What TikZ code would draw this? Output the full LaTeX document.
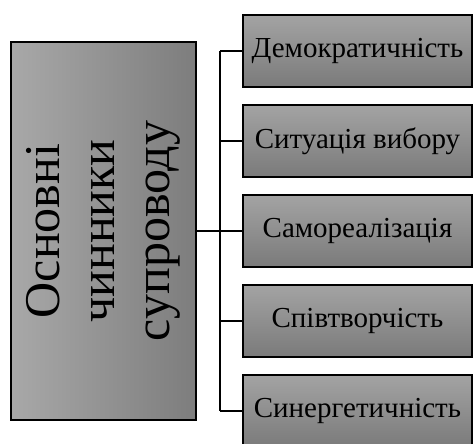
\documentclass[tikz,border=0pt]{standalone}
\usepackage{fontspec}
\setmainfont{Liberation Serif}
\definecolor{lgA}{gray}{0.66}
\definecolor{lgB}{gray}{0.49}
\definecolor{rgA}{gray}{0.64}
\definecolor{rgB}{gray}{0.48}
\begin{document}
\begin{tikzpicture}[x=1pt,y=1pt,
  mainbox/.style={draw=black,line width=1.3pt,left color=lgA,right color=lgB,minimum width=185pt,minimum height=378pt,inner sep=0pt},
  maintext/.style={rotate=90,align=center,font=\fontsize{50}{55}\selectfont},
  factor/.style={draw=black,line width=1.2pt,top color=rgA,bottom color=rgB,minimum width=229pt,minimum height=72pt,inner sep=0pt,font=\fontsize{29}{33}\selectfont},
  trunk/.style={line width=2pt},
  branch/.style={line width=1.2pt}]
\useasboundingbox (0,0) rectangle (474,444);
\clip (0,0) rectangle (474,444);
\node[mainbox] (main) at (103.5,213) {};
\node[maintext] (mt) at (main.center) {Основні\\чинники\\супроводу};
\node[factor] (f1) at (357.5,393) {Демократичність};
\node[factor] (f2) at (357.5,303) {Ситуація вибору};
\node[factor] (f3) at (357.5,213) {Самореалізація};
\node[factor] (f4) at (357.5,123) {Співтворчість};
\node[factor] (f5) at (357.5,33) {Синергетичність};
\coordinate (hub) at (220,213);
\draw[trunk] (main.east) -- (hub);
\draw[trunk] (f1.west -| hub) -- (f5.west -| hub);
\foreach \f in {f1,f2,f3,f4,f5}{
  \draw[branch] (\f.west -| hub) -- (\f.west);
}
\end{tikzpicture}
\end{document}
